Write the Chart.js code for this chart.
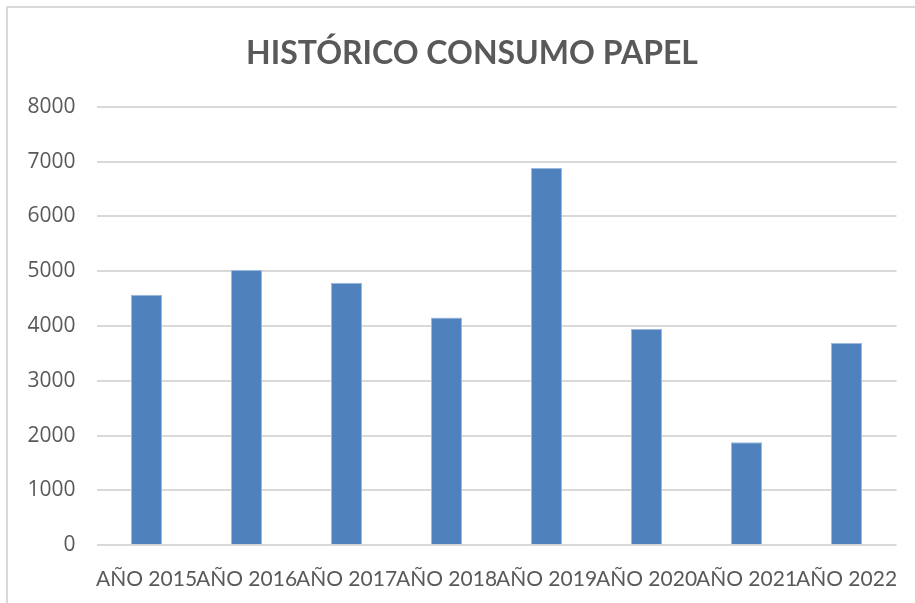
<!DOCTYPE html>
<html>
<head>
<meta charset="utf-8">
<script src="https://cdn.jsdelivr.net/npm/chart.js@4.4.0/dist/chart.umd.min.js"></script>
<style>
  html, body { margin: 0; padding: 0; background: #ffffff; }
  #wrap { position: relative; width: 915px; height: 603px; overflow: hidden; }
  #frame { position: absolute; left: 6px; top: 6px; width: 940px; height: 640px;
           border-left: 2px solid #d9d9d9; border-top: 2px solid #d9d9d9; pointer-events: none; }
  canvas { position: absolute; left: 0; top: 0; }
</style>
</head>
<body>
<div id="wrap">
  <canvas id="c" width="915" height="603"></canvas>
  <div id="frame"></div>
</div>
<script>
const titleText = 'HISTÓRICO CONSUMO PAPEL';
const categories = ['AÑO 2015', 'AÑO 2016', 'AÑO 2017', 'AÑO 2018', 'AÑO 2019', 'AÑO 2020', 'AÑO 2021', 'AÑO 2022'];
const consumo = [4570, 5020, 4790, 4155, 6880, 3945, 1880, 3690];
const yMin = 0;
const yMax = 8000;
const yStep = 1000;

const textColor = '#595959';
const titleFont = 'Lato, "Open Sans", sans-serif';
const xTickFont = 'Lato, "Open Sans", sans-serif';
const yTickFont = '"Open Sans", Lato, sans-serif';

const titlePlugin = {
  id: 'customTitle',
  afterDraw(chart) {
    const ctx = chart.ctx;
    ctx.save();
    ctx.fillStyle = textColor;
    ctx.font = 'bold 32px ' + titleFont;
    ctx.textAlign = 'center';
    ctx.textBaseline = 'middle';
    ctx.fillText(titleText, 472, 54);
    ctx.restore();
  }
};

new Chart(document.getElementById('c'), {
  type: 'bar',
  data: {
    labels: categories,
    datasets: [{
      label: 'Consumo',
      data: consumo,
      backgroundColor: '#4f81bd',
      borderColor: '#9dbade',
      borderWidth: 1,
      borderSkipped: 'bottom',
      categoryPercentage: 1.0,
      barPercentage: 0.31
    }]
  },
  plugins: [titlePlugin],
  options: {
    responsive: false,
    animation: false,
    layout: { padding: { left: 0, right: 18.5, top: 106.7, bottom: 0 } },
    plugins: {
      legend: { display: false },
      tooltip: { enabled: false },
      title: { display: false }
    },
    scales: {
      x: {
        grid: { display: false },
        border: { display: false },
        ticks: {
          color: textColor,
          font: { family: xTickFont, size: 21 },
          padding: 13,
          maxRotation: 0,
          autoSkip: false
        },
        afterFit: (s) => { s.height = 57.7; }
      },
      y: {
        min: yMin,
        max: yMax,
        border: { display: false },
        grid: { color: '#d9d9d9', lineWidth: 2, drawTicks: false },
        ticks: {
          stepSize: yStep,
          color: textColor,
          font: { family: yTickFont, size: 21 },
          padding: 21,
          callback: (v) => String(v)
        },
        afterFit: (s) => { s.width = 96.5; }
      }
    }
  }
});
</script>
</body>
</html>
